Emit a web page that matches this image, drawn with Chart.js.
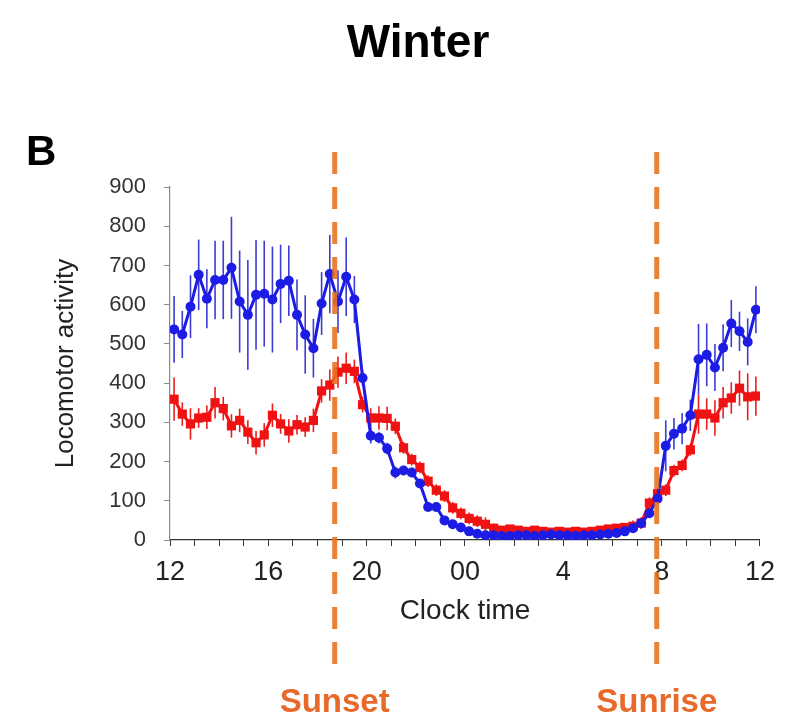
<!DOCTYPE html>
<html>
<head>
<meta charset="utf-8">
<title>Winter - Locomotor activity</title>
<script src="https://cdn.jsdelivr.net/npm/chart.js@4.4.1/dist/chart.umd.min.js"></script>
<style>
  html, body { margin: 0; padding: 0; background: #fff; }
  #wrap { width: 785px; height: 719px; }
</style>
</head>
<body>
<div id="wrap"><canvas id="chart" width="785" height="719"></canvas></div>
<script>
// ── Data ─────────────────────────────────────────────
// 20-min bins starting 12:00, 72 bins over 24 h
const binMinutes = 20;

const blueActivity = [
  537, 524, 595, 676, 615, 663, 663, 694, 608, 574, 625, 628,
  613, 653, 661, 574, 524, 489, 603, 678, 608, 671, 613, 413,
  266, 261, 233, 172, 177, 172, 144, 84, 84, 50, 40, 32,
  22, 16, 12, 12, 10, 10, 12, 12, 10, 12, 14, 12,
  12, 10, 12, 12, 14, 16, 18, 22, 30, 43, 68, 105,
  240, 271, 284, 318, 461, 472, 440, 490, 552, 532, 505, 587
];
const blueError = [
  85, 60, 80, 90, 75, 100, 100, 130, 130, 140, 140, 135,
  135, 100, 90, 90, 100, 75, 80, 100, 80, 100, 60, 20,
  20, 15, 15, 15, 12, 12, 10, 10, 10, 8, 5, 5,
  5, 5, 5, 5, 5, 5, 5, 5, 5, 5, 5, 5,
  5, 5, 5, 5, 5, 5, 5, 5, 8, 10, 12, 15,
  65, 40, 40, 40, 90, 80, 60, 60, 60, 50, 60, 60
];

const redActivity = [
  359, 321, 296, 311, 313, 350, 335, 291, 305, 275, 248, 268,
  318, 296, 278, 294, 288, 305, 380, 395, 428, 438, 430, 345,
  311, 311, 310, 290, 235, 205, 185, 150, 127, 112, 82, 68,
  55, 48, 40, 30, 25, 28, 25, 22, 25, 22, 20, 22,
  20, 22, 20, 22, 25, 28, 30, 32, 35, 43, 94, 118,
  127, 177, 190, 230, 321, 321, 311, 350, 362, 387, 365, 367
];
const redError = [
  55, 30, 40, 25, 30, 40, 30, 30, 30, 30, 30, 30,
  30, 25, 30, 25, 25, 30, 30, 40, 40, 40, 30, 20,
  25, 30, 30, 20, 15, 15, 15, 15, 15, 15, 15, 15,
  15, 15, 18, 12, 10, 10, 10, 10, 10, 10, 10, 10,
  10, 10, 10, 10, 10, 10, 10, 10, 15, 15, 15, 15,
  15, 15, 15, 15, 50, 40, 45, 40, 40, 45, 60, 50
];

const hourLabels = ['12', '16', '20', '00', '4', '8', '12'];
const yTicks = [0, 100, 200, 300, 400, 500, 600, 700, 800, 900];
const sunsetClock = 18.7;
const sunriseClock = 7.8;

// ── Helpers ──────────────────────────────────────────
const toAxisHour = h => (h - 12 + 24) % 24;
const toPoints = vals => vals.map((v, i) => ({ x: (i + 0.5) * binMinutes / 60, y: v }));

const ORANGE = '#e8731f';
const FONT = "Arial, 'Liberation Sans', Helvetica, sans-serif";
Chart.defaults.font.family = FONT;

// error bars, drawn under the lines
const errorBars = {
  id: 'errorBars',
  beforeDatasetsDraw(chart) {
    const { ctx, scales: { x, y } } = chart;
    ctx.save();
    ctx.lineWidth = 1.6;
    for (let i = chart.data.datasets.length - 1; i >= 0; i--) {
      const ds = chart.data.datasets[i];
      ctx.strokeStyle = ds.errorColor;
      ds.data.forEach((p, j) => {
        const e = ds.errors[j];
        const px = x.getPixelForValue(p.x);
        ctx.beginPath();
        ctx.moveTo(px, y.getPixelForValue(Math.max(0, p.y - e)));
        ctx.lineTo(px, y.getPixelForValue(p.y + e));
        ctx.stroke();
      });
    }
    ctx.restore();
  }
};

// title, panel letter, sunset / sunrise markers
const decor = {
  id: 'decor',
  afterDraw(chart) {
    const { ctx, scales: { x } } = chart;
    ctx.save();
    ctx.fillStyle = '#000';
    ctx.textAlign = 'center';
    ctx.font = `bold 46px ${FONT}`;
    ctx.fillText('Winter', 418, 57);
    ctx.textAlign = 'left';
    ctx.font = `bold 42px ${FONT}`;
    ctx.fillText('B', 26, 165);

    const marks = [
      { h: sunsetClock, text: 'Sunset' },
      { h: sunriseClock, text: 'Sunrise' },
    ];
    marks.forEach(m => {
      const px = x.getPixelForValue(toAxisHour(m.h));
      ctx.strokeStyle = ORANGE;
      ctx.globalAlpha = 0.9;
      ctx.lineWidth = 5;
      ctx.setLineDash([22, 13]);
      ctx.beginPath();
      ctx.moveTo(px, 152);
      ctx.lineTo(px, 668);
      ctx.stroke();
      ctx.globalAlpha = 1;
      ctx.fillStyle = '#e8692a';
      ctx.textAlign = 'center';
      ctx.font = `bold 33px ${FONT}`;
      ctx.fillText(m.text, px, 712);
    });
    ctx.restore();
  }
};

new Chart(document.getElementById('chart'), {
  type: 'line',
  data: {
    datasets: [
      {
        label: 'Blue',
        data: toPoints(blueActivity),
        errors: blueError,
        errorColor: '#3b3bd6',
        borderColor: '#1c1ce4',
        backgroundColor: '#1c1ce4',
        borderWidth: 3,
        pointStyle: 'circle',
        pointRadius: 5,
        pointBorderWidth: 0,
        tension: 0,
      },
      {
        label: 'Red',
        data: toPoints(redActivity),
        errors: redError,
        errorColor: '#ee1c1c',
        borderColor: '#f01212',
        backgroundColor: '#f01212',
        borderWidth: 3,
        pointStyle: 'rect',
        pointRadius: 6.5,
        pointBorderWidth: 0,
        tension: 0,
      },
    ]
  },
  options: {
    responsive: false,
    animation: false,
    layout: { padding: { left: 50, top: 187, right: 25, bottom: 87 } },
    plugins: {
      legend: { display: false },
      tooltip: { enabled: false },
    },
    scales: {
      x: {
        type: 'linear',
        min: 0,
        max: 24,
        afterFit: s => { s.height = 92; },
        border: { color: '#333', width: 1.2 },
        grid: { drawOnChartArea: false, drawTicks: true, tickLength: 6, color: '#333' },
        ticks: {
          stepSize: 1,
          autoSkip: false,
          maxRotation: 0,
          padding: 10,
          color: '#222',
          font: { size: 27 },
          callback: v => (v % 4 === 0 ? hourLabels[v / 4] : ''),
        },
        title: {
          display: true,
          text: 'Clock time',
          color: '#222',
          font: { size: 28 },
          padding: { top: 4, bottom: 4 },
        },
      },
      y: {
        min: 0,
        max: 900,
        afterFit: s => { s.width = 120; },
        afterBuildTicks: s => { s.ticks = yTicks.map(v => ({ value: v })); },
        border: { color: '#888', width: 1.2 },
        grid: { drawOnChartArea: false, drawTicks: true, tickLength: 6, color: '#888' },
        ticks: {
          padding: 18,
          color: '#333',
          font: { size: 22 },
        },
        title: {
          display: true,
          text: 'Locomotor activity',
          color: '#222',
          font: { size: 26 },
          padding: 0,
        },
      },
    },
  },
  plugins: [errorBars, decor],
});
</script>
</body>
</html>
